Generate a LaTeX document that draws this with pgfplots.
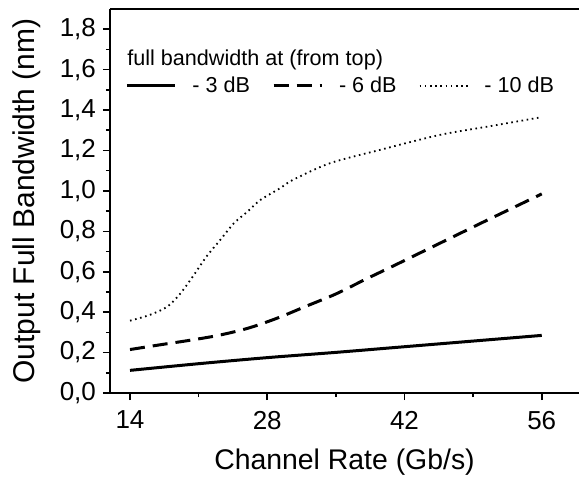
\documentclass[border=0pt]{standalone}
\usepackage{fontspec}
\setmainfont{Liberation Sans}
\usepackage{pgfplots}
\pgfplotsset{compat=1.18}
\usetikzlibrary{calc}

\begin{document}
\begin{tikzpicture}
\begin{axis}[
  name=ax,
  scale only axis,
  width=234.5pt, height=192pt,
  xmin=11.96, xmax=59.8,
  ymin=0, ymax=1.9,
  axis x line=bottom, axis y line=left,
  axis line style={line width=1pt, -},
  xtick={14,28,42,56},
  ytick={0,0.2,...,1.8},
  minor x tick num=1, minor y tick num=1,
  tick align=outside,
  major tick length=3.5pt, minor tick length=2pt,
  every tick/.style={line width=0.8pt, black},
  /pgf/number format/assume math mode=true,
  yticklabel style={/pgf/number format/.cd, use comma, fixed, fixed zerofill, precision=1},
  xticklabel style={yshift=-2pt},
  ticklabel style={font=\fontsize{13}{15}\selectfont},
  xlabel={Channel Rate (Gb/s)},
  ylabel={Output Full Bandwidth (nm)},
  xlabel style={font=\fontsize{14.2}{16}\selectfont, at={(axis description cs:0.5,-0.2005)}, anchor=base},
  ylabel style={font=\fontsize{15}{17}\selectfont, at={(axis description cs:-0.177,0.5)}, anchor=center},
  legend columns=3,
  legend image code/.code={\draw[#1] (0pt,0pt) -- (24pt,0pt);},
  legend style={draw=none, fill=none, inner sep=0pt,
    at={(axis description cs:0.032,0.80)}, anchor=west,
    font=\fontsize{10.8}{12}\selectfont,
    /tikz/every odd column/.append style={column sep=6pt},
    /tikz/every even column/.append style={column sep=9pt}},
  clip=false,
]
\addplot[black, line width=1.5pt, smooth] coordinates {
  (14,0.112) (21,0.145) (28,0.175) (35,0.201) (42,0.229) (49,0.257) (56,0.285)};
\addplot[black, line width=1.5pt, dash pattern=on 7.5pt off 4pt, smooth] coordinates {
  (14,0.215) (17,0.238) (20,0.260) (23,0.285) (26,0.320) (29,0.370) (32,0.430)
  (35,0.490) (38,0.562) (41,0.632) (44,0.703) (47,0.774) (50,0.845) (53,0.915) (56,0.985)};
\addplot[black, line width=0.9pt, dash pattern=on 0.8pt off 1.8pt, smooth, tension=0.5] coordinates {
  (14,0.358) (16,0.386) (17.8,0.427) (19.1,0.490) (20.4,0.576) (21.8,0.675) (23.2,0.757)
  (24.6,0.840) (26,0.898) (27.3,0.955) (29.3,1.013) (30.6,1.054) (34.4,1.137)
  (39.5,1.203) (45.6,1.277) (50.7,1.320) (56,1.365)};
\legend{- 3 dB, - 6 dB, - 10 dB}
\draw[line width=1pt] (axis description cs:0,1) -- (axis description cs:1,1);
\node[anchor=base west, inner sep=0pt, font=\fontsize{10.8}{12}\selectfont]
  at (axis description cs:0.036,0.852) {full bandwidth at (from top)};
\end{axis}
\pgfresetboundingbox
\path ($(ax.south west)+(-55pt,-42pt)$) rectangle ($(ax.north east)+(0pt,4.5pt)$);
\end{tikzpicture}
\end{document}
